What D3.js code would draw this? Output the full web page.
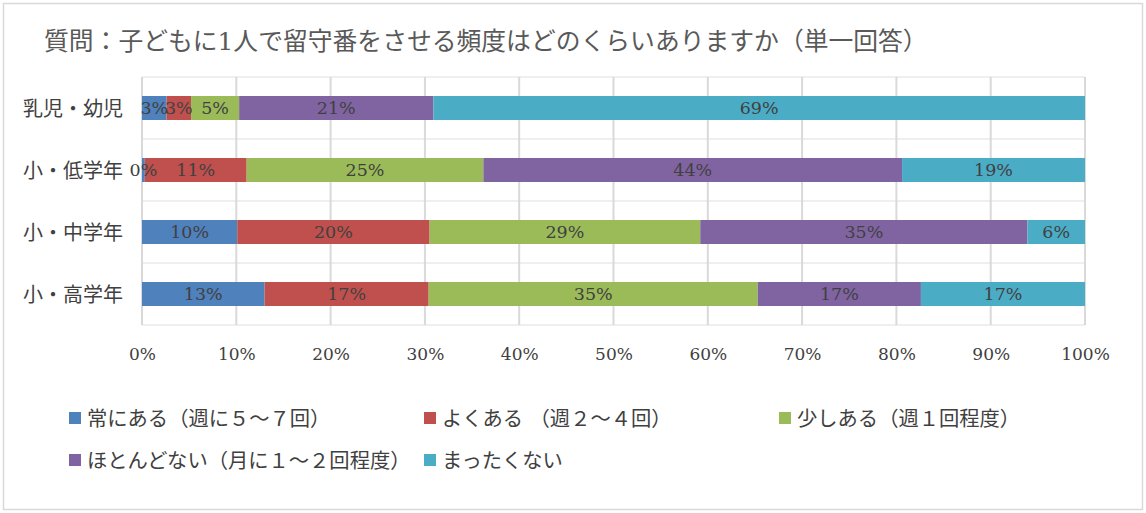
<!DOCTYPE html>
<html><head><meta charset="utf-8">
<script src="https://cdn.jsdelivr.net/npm/d3@7"></script>
<style>
html,body{margin:0;padding:0;background:#fff;}
text{font-family:"DejaVu Serif","Noto Sans CJK JP",serif;}
</style></head>
<body><svg id="c" width="1146" height="513"></svg>
<script>
const title = "質問：子どもに1人で留守番をさせる頻度はどのくらいありますか（単一回答）";
const categories = ["乳児・幼児", "小・低学年", "小・中学年", "小・高学年"];
const seriesNames = ["常にある（週に５～７回）", "よくある （週２～４回）", "少しある（週１回程度）", "ほとんどない（月に１～２回程度）", "まったくない"];
const seriesColors = ["#4F81BD", "#C0504D", "#9BBB59", "#8064A2", "#4BACC6"];
// values (%) per series, in category order
const always    = [2.6, 0.3, 10.1, 13.0];
const often     = [2.6, 10.8, 20.4, 17.4];
const sometimes = [5.1, 25.1, 28.7, 34.9];
const rarely    = [20.6, 44.4, 34.7, 17.3];
const never     = [69.1, 19.4, 6.1, 17.4];
const xTicks = [0, 10, 20, 30, 40, 50, 60, 70, 80, 90, 100];

const seriesVals = [always, often, sometimes, rarely, never];
const svg = d3.select("#c");

// outer border
svg.append("rect").attr("x", 3.5).attr("y", 3.5).attr("width", 1139).attr("height", 506)
  .attr("fill", "#fff").attr("stroke", "#D9D9D9").attr("stroke-width", 1.5);

svg.append("text").attr("x", 44).attr("y", 41).attr("dy", "0.38em")
  .attr("font-size", 24.8).attr("fill", "#595959")
  .attr("font-family", "Noto Sans CJK JP").text(title);

const x = d3.scaleLinear().domain([0, 100]).range([142, 1085]);
const y = d3.scaleBand().domain(categories).range([77, 325]).paddingInner(0.613).paddingOuter(0.3065);

// horizontal gridlines at band boundaries
const bounds = categories.map(c => y(c) - y.step() * y.paddingInner() / 2).concat([325]);
svg.append("g").selectAll("line").data(bounds).join("line")
  .attr("x1", 142).attr("x2", 1085).attr("y1", d => d).attr("y2", d => d)
  .attr("stroke", "#EFEFEF").attr("stroke-width", 2);

// vertical gridlines
svg.append("g").selectAll("line").data(xTicks).join("line")
  .attr("x1", d => x(d)).attr("x2", d => x(d)).attr("y1", 77).attr("y2", 325)
  .attr("stroke", "#D9D9D9").attr("stroke-width", 2);

// x axis labels
const xAxis = d3.axisBottom(x).tickValues(xTicks).tickFormat(d => d + "%").tickSize(0);
const gx = svg.append("g").attr("transform", "translate(0,354)").call(xAxis);
gx.select(".domain").remove();
gx.selectAll("text").attr("y", 0).attr("dy", "0.35em").attr("font-size", 17).attr("fill", "#404040")
  .attr("font-family", "DejaVu Serif");

// y axis labels
const yAxis = d3.axisLeft(y).tickSize(0);
const gy = svg.append("g").attr("transform", "translate(123,0)").call(yAxis);
gy.select(".domain").remove();
gy.selectAll("text").attr("x", 0).attr("font-size", 20).attr("fill", "#404040")
  .attr("font-family", "Noto Sans CJK JP").attr("dy", "0.38em");

// stacked data
const rows = categories.map((c, i) => {
  const r = { cat: c, idx: i };
  seriesNames.forEach((s, j) => r[s] = seriesVals[j][i]);
  return r;
});
const stack = d3.stack().keys(seriesNames)(rows);

const layers = svg.append("g").selectAll("g").data(stack).join("g")
  .attr("fill", (d, i) => seriesColors[i]);
layers.selectAll("rect").data(d => d).join("rect")
  .attr("x", d => x(d[0])).attr("width", d => x(d[1]) - x(d[0]))
  .attr("y", d => y(d.data.cat)).attr("height", y.bandwidth());

// data labels
const lbl = svg.append("g");
stack.forEach((layer, j) => {
  layer.forEach(d => {
    const v = seriesVals[j][d.data.idx];
    lbl.append("text")
      .attr("x", x((d[0] + d[1]) / 2))
      .attr("y", y(d.data.cat) + y.bandwidth() / 2)
      .attr("dy", "0.36em").attr("text-anchor", "middle")
      .attr("font-size", 17.5).attr("fill", "#404040")
      .attr("font-family", "DejaVu Serif")
      .text(Math.round(v) + "%");
  });
});

// legend
const legendPos = [[69, 418], [424, 418], [779, 418], [69, 460], [424, 460]];
const lg = svg.append("g");
seriesNames.forEach((s, i) => {
  const [lx, ly] = legendPos[i];
  lg.append("rect").attr("x", lx).attr("y", ly - 6).attr("width", 12).attr("height", 12)
    .attr("fill", seriesColors[i]);
  lg.append("text").attr("x", lx + 18).attr("y", ly).attr("dy", "0.38em")
    .attr("font-size", 20.3).attr("fill", "#404040").attr("font-family", "Noto Sans CJK JP")
    .text(s);
});
</script></body></html>
